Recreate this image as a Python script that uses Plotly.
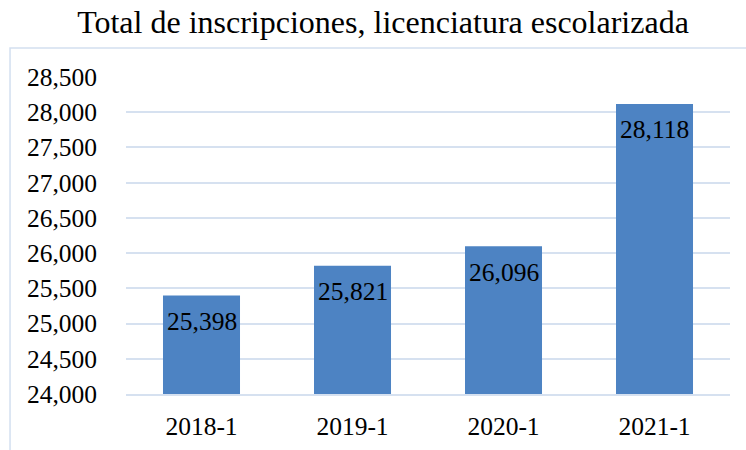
import plotly.graph_objects as go

categories = ["2018-1", "2019-1", "2020-1", "2021-1"]
values = [25398, 25821, 26096, 28118]
y_tickvals = list(range(24000, 28501, 500))
y_ticktext = [f"{v:,}" for v in y_tickvals]

FONT = "Liberation Serif"
FS = 25.5
fig = go.Figure()
fig.add_trace(go.Bar(
    x=categories, y=values,
    marker=dict(color="#4d83c3", line=dict(width=0)),
    width=0.51, hoverinfo="skip",
))
for c, v in zip(categories, values):
    fig.add_annotation(x=c, y=v, text=f"{v:,}", showarrow=False,
                       yanchor="middle", yshift=-26,
                       font=dict(family=FONT, size=FS, color="black"))

fig.add_shape(type="rect", xref="paper", yref="paper",
              x0=-0.192, x1=1.2, y0=-0.4, y1=1.0915,
              line=dict(color="#d3dff0", width=1.5), layer="below")

fig.update_layout(
    width=746, height=450,
    margin=dict(l=126, r=16, t=77, b=56, autoexpand=False),
    paper_bgcolor="white", plot_bgcolor="white",
    title=dict(text="Total de inscripciones, licenciatura escolarizada",
               x=383/746, xref="container", xanchor="center",
               y=1 - 22/450, yref="container", yanchor="middle",
               font=dict(family=FONT, size=32, color="black")),
    font=dict(family=FONT, size=FS, color="black"),
    showlegend=False,
    xaxis=dict(type="category", showgrid=False, showline=True, linecolor="#d6e1f0", linewidth=2,
               ticks="", ticklabelstandoff=8, tickfont=dict(size=FS), automargin=False),
    yaxis=dict(range=[24000, 28500], tickvals=y_tickvals, ticktext=y_ticktext,
               showgrid=True, gridcolor="#d6e1f0", gridwidth=2,
               zeroline=False, showline=False, ticks="",
               ticklabelstandoff=28, tickfont=dict(size=FS), automargin=False),
)
fig.write_html("out.html", config={"displayModeBar": False},
               post_script="document.body.style.margin='0';")
